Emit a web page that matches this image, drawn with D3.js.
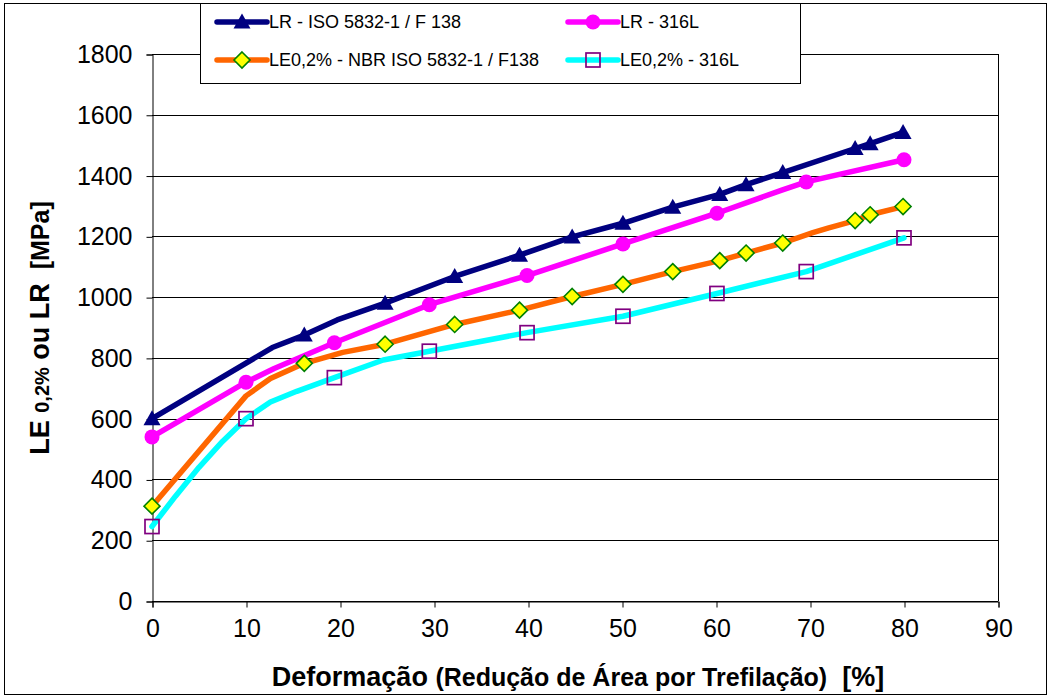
<!DOCTYPE html>
<html><head><meta charset="utf-8">
<script src="https://cdn.jsdelivr.net/npm/d3@7"></script>
<style>body{margin:0;background:#fff}svg{display:block;font-family:"Liberation Sans",Arial,sans-serif}</style>
</head><body><svg id="c" width="1050" height="697"></svg>
<script>
// ---- data ----
const xTickValues = [0,10,20,30,40,50,60,70,80,90];
const yTickValues = [0,200,400,600,800,1000,1200,1400,1600,1800];
const seriesNames = ["LR - ISO 5832-1 / F 138","LR - 316L","LE0,2% - NBR ISO 5832-1 / F138","LE0,2% - 316L"];

// marker points
const xISO   = [0,16.2,24.8,32.2,39.1,44.7,50.1,55.4,60.4,63.2,67.1,74.8,76.4,79.9];
const lrISO  = [600,875,980,1068,1138,1198,1243,1296,1338,1370,1410,1489,1505,1542];
const leISO  = [312,782,845,910,957,1002,1042,1084,1120,1145,1178,1252,1271,1298];
const x316   = [0,10,19.4,29.5,39.9,50.1,60.1,69.6,80];
const lr316  = [540,720,850,975,1071,1175,1276,1379,1452];
const le316  = [245,600,735,822,883,937,1012,1084,1195];

// line vertices (lines include unmarked points)
const lrISOLineX = [0,12.8,16.2,19.7,24.8,32.2,39.1,44.7,50.1,55.4,60.4,63.2,67.1,74.8,76.4,79.9];
const lrISOLineY = [600,834,875,925,980,1068,1138,1198,1243,1296,1338,1370,1410,1489,1505,1542];
const lr316LineX = [0,10,13,19.4,29.5,39.9,50.1,60.1,67,69.6,80];
const lr316LineY = [540,720,765,850,975,1071,1175,1276,1352,1379,1452];
const leISOLineX = [0,10,12.6,16.2,20.3,24.8,32.2,39.1,44.7,50.1,55.4,60.4,63.2,67.1,70.3,72,74.8,76.4,79.9];
const leISOLineY = [312,675,732,782,818,845,910,957,1002,1042,1084,1120,1145,1178,1212,1228,1252,1271,1298];
const le316LineX = [0,2.5,5,7.5,10,12.6,15.4,19.4,24.6,29.5,39.9,50.1,60.1,69.6,80];
const le316LineY = [245,345,440,525,600,655,690,735,793,822,883,937,1012,1084,1195];

// ---- chart ----
const svg = d3.select("#c");
const L=152, R=998, T=54, B=601;
const x = d3.scaleLinear().domain([0,90]).range([L,R]);
const y = d3.scaleLinear().domain([0,1800]).range([B,T]);

svg.append("rect").attr("x",4.5).attr("y",3.5).attr("width",1042).attr("height",691)
  .attr("fill","#fff").attr("stroke","#000").attr("stroke-width",1);

// gridlines
svg.append("g").selectAll("line").data(yTickValues).join("line")
  .attr("x1",L).attr("x2",R).attr("y1",d=>Math.round(y(d))+0.5).attr("y2",d=>Math.round(y(d))+0.5)
  .attr("stroke","#000").attr("stroke-width",1);
svg.append("line").attr("x1",R+0.5).attr("x2",R+0.5).attr("y1",T).attr("y2",B).attr("stroke","#000");

// axes
const yAxis = d3.axisLeft(y).tickValues(yTickValues).tickSize(6).tickPadding(14).tickFormat(d3.format("d"));
const gy = svg.append("g").attr("transform",`translate(${L+0.5},0.5)`).call(yAxis);
const xAxis = d3.axisBottom(x).tickValues(xTickValues).tickSize(6).tickPadding(12).tickFormat(d3.format("d"));
const gx = svg.append("g").attr("transform",`translate(0.5,${B+0.5})`).call(xAxis);
[gy,gx].forEach(g=>{
  g.select(".domain").attr("stroke","#000");
  g.selectAll(".tick line").attr("stroke","#000");
  g.selectAll("text").attr("font-size",25).attr("fill","#000").attr("font-family","Liberation Sans, Arial, sans-serif");
});

// series
const series = [
  {lx:lrISOLineX, ly:lrISOLineY, mx:xISO, my:lrISO, color:"#000080", marker:"tri"},
  {lx:lr316LineX, ly:lr316LineY, mx:x316, my:lr316, color:"#ff00ff", marker:"circle"},
  {lx:leISOLineX, ly:leISOLineY, mx:xISO, my:leISO, color:"#ff6600", marker:"diamond"},
  {lx:le316LineX, ly:le316LineY, mx:x316, my:le316, color:"#00ffff", marker:"square"}
];
const line = d3.line().x(d=>x(d[0])).y(d=>y(d[1]));

function drawMarker(g, type){
  if(type==="tri") g.append("path").attr("d","M0,-8.5L8.5,6.5L-8.5,6.5Z").attr("fill","#000080");
  else if(type==="circle") g.append("circle").attr("r",7.5).attr("fill","#ff00ff");
  else if(type==="diamond") g.append("path").attr("d","M0,-8L8,0L0,8L-8,0Z").attr("fill","#ffff00").attr("stroke","#008000").attr("stroke-width",1.6);
  else if(type==="square") g.append("rect").attr("x",-7).attr("y",-7).attr("width",14).attr("height",14).attr("fill","none").attr("stroke","#800080").attr("stroke-width",1.7);
}

series.forEach(s=>{
  const pts = s.lx.map((v,i)=>[v,s.ly[i]]);
  svg.append("path").attr("d",line(pts)).attr("fill","none").attr("stroke",s.color)
    .attr("stroke-width",5.5).attr("stroke-linejoin","round").attr("stroke-linecap","round");
  s.mx.forEach((v,i)=>{
    const g = svg.append("g").attr("transform",`translate(${x(v)},${y(s.my[i])})`);
    drawMarker(g,s.marker);
  });
});

// legend
const lg = svg.append("g");
lg.append("rect").attr("x",200.5).attr("y",3.5).attr("width",600).attr("height",80)
  .attr("fill","#fff").attr("stroke","#000").attr("stroke-width",1);
const legPos = [[217,22],[568,22],[217,60],[568,60]];
series.forEach((s,i)=>{
  const [lx,ly]=legPos[i];
  lg.append("line").attr("x1",lx).attr("x2",lx+50).attr("y1",ly).attr("y2",ly)
    .attr("stroke",s.color).attr("stroke-width",5.5).attr("stroke-linecap","round");
  const g = lg.append("g").attr("transform",`translate(${lx+25},${ly})`);
  drawMarker(g,s.marker);
  lg.append("text").attr("x",lx+52).attr("y",ly).attr("dy","0.35em").attr("font-size",18).text(seriesNames[i]);
});

// axis titles
const xt = svg.append("text").attr("x",578).attr("y",686).attr("text-anchor","middle").attr("font-weight","bold").attr("fill","#000");
xt.append("tspan").attr("font-size",27).text("Deformação ");
xt.append("tspan").attr("font-size",25).text("(Redução de Área por Trefilação)");
xt.append("tspan").attr("font-size",27).text("\u00a0\u00a0[%]");

const yt = svg.append("text").attr("transform","translate(49,328) rotate(-90)").attr("text-anchor","middle").attr("font-weight","bold").attr("fill","#000");
yt.append("tspan").attr("font-size",27).text("LE ");
yt.append("tspan").attr("font-size",20).text("0,2%");
yt.append("tspan").attr("font-size",27).text(" ou LR");
yt.append("tspan").attr("font-size",25).text("\u00a0\u00a0[MPa]");
</script></body></html>
